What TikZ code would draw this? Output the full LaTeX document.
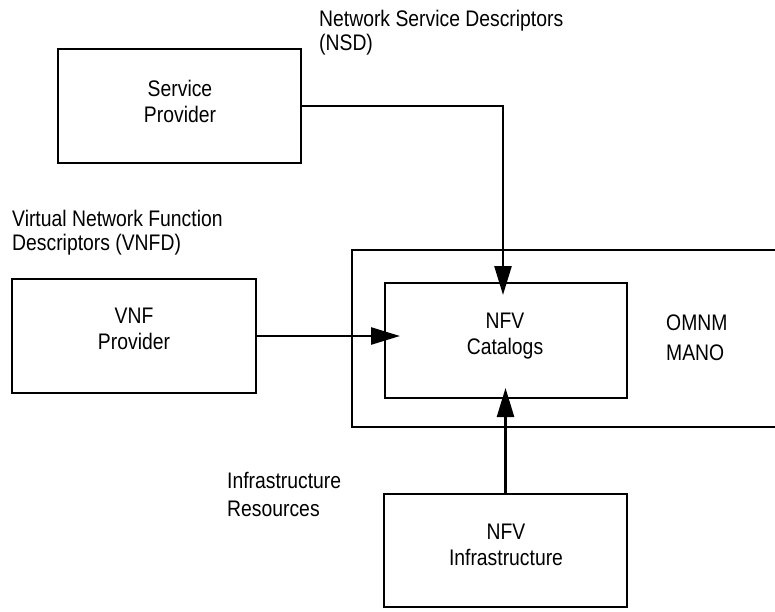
\documentclass[tikz,border=0pt]{standalone}
\usepackage{fontspec}
\setmainfont{Liberation Sans}[FakeStretch=0.86]
\usetikzlibrary{arrows.meta}
\tikzset{
  boxnode/.style={draw, line width=2.5pt, rectangle, inner sep=0pt, outer sep=0pt},
  boxtext/.style={align=center, inner sep=0pt, font=\fontsize{22.5}{26}\selectfont},
  labeltext/.style={align=left, inner sep=0pt, anchor=north west, font=\fontsize{22.5}{23.5}\selectfont},
  conn/.style={line width=2.5pt, -{Triangle[length=29pt,width=17pt]}},
}
\begin{document}
\begin{tikzpicture}[x=1pt, y=-1pt]
\useasboundingbox (0,0) rectangle (775,611);
% container
\node[boxnode, minimum width=425pt, minimum height=177pt] (omnm) at (564.5,338.5) {};
% boxes
\node[boxnode, minimum width=243pt, minimum height=114pt] (sp) at (179.5,106) {};
\node[boxnode, minimum width=244pt, minimum height=114pt] (vnf) at (134,336) {};
\node[boxnode, minimum width=242pt, minimum height=115pt] (cat) at (506,340.5) {};
\node[boxnode, minimum width=243pt, minimum height=113pt] (infra) at (505.5,550.5) {};
% box texts
\node[boxtext] (sptext) at (180,101) {Service\\Provider};
\node[boxtext] (vnftext) at (134,328.5) {VNF\\Provider};
\node[boxtext] (cattext) at (505,336) {NFV\\Catalogs};
\node[boxtext] (infratext) at (506,545) {NFV\\Infrastructure};
\node[labeltext, font=\fontsize{22.5}{30}\selectfont] (omnmtext) at (666,315) {OMNM\\MANO};
% labels
\node[labeltext] (nsdlabel) at (319,10) {Network Service Descriptors\\(NSD)};
\node[labeltext] (vnfdlabel) at (12,210) {Virtual Network Function\\Descriptors (VNFD)};
\node[labeltext, font=\fontsize{22.5}{28}\selectfont] (irlabel) at (227,472) {Infrastructure\\Resources};
% connectors
\coordinate (nsdtip) at (503,295);
\coordinate (vnftip) at (400,336);
\coordinate (inftip) at (505.5,388);
\draw[conn] (sp.east) -| (nsdtip);
\draw[conn] (vnf.east) -- (vnftip);
\draw[conn] (infra.north) -- (inftip);
\end{tikzpicture}
\end{document}
